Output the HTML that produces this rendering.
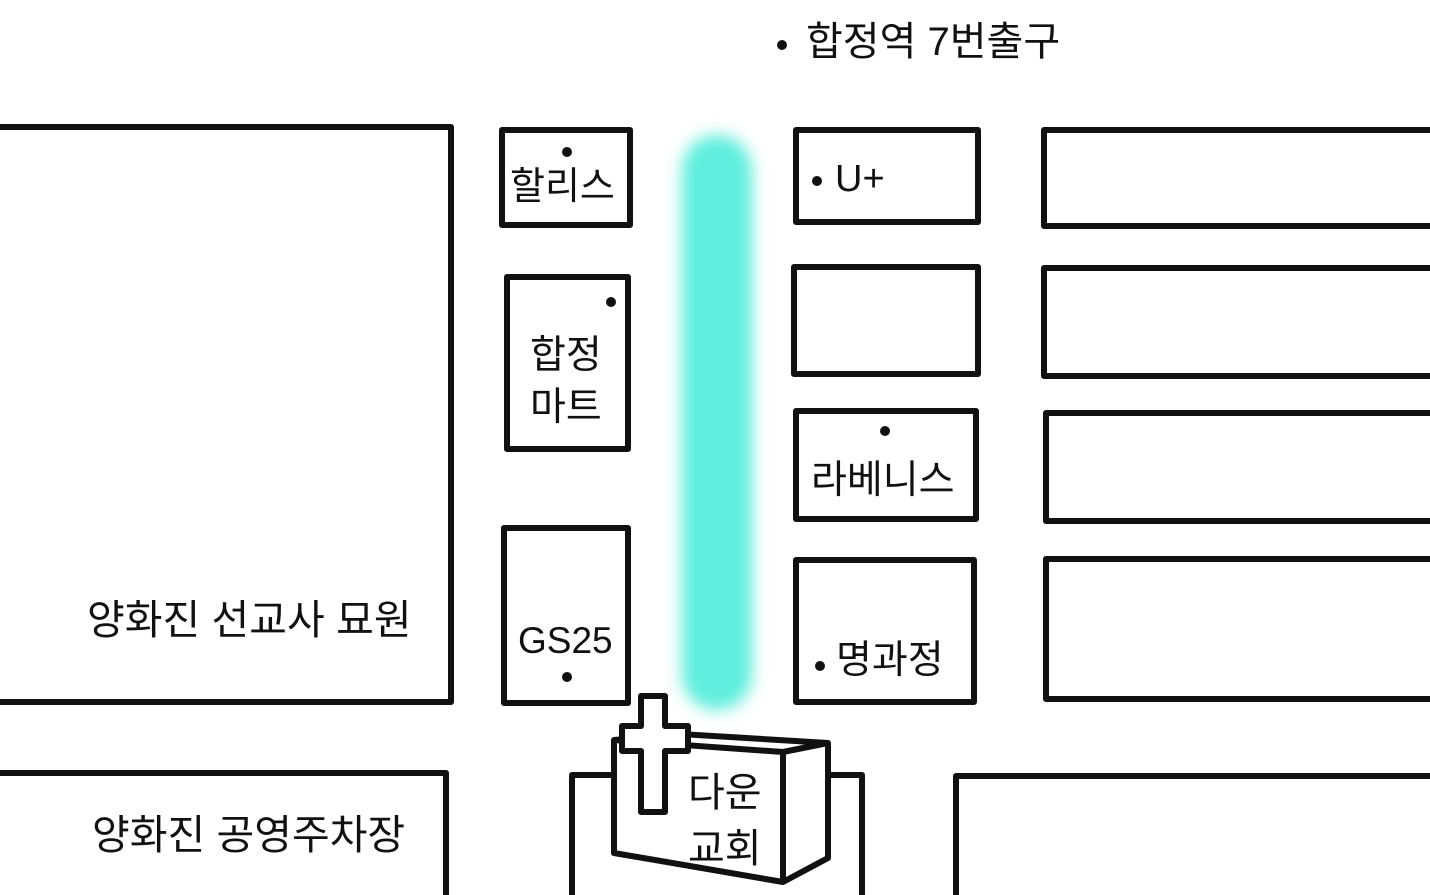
<!DOCTYPE html>
<html><head><meta charset="utf-8"><style>
body{margin:0;background:#fff;width:1430px;height:895px;overflow:hidden;position:relative;font-family:"Liberation Sans","Noto Sans CJK KR",sans-serif;color:#111}
.t{position:absolute;font-size:38px;white-space:nowrap;line-height:1}
</style></head><body>
<svg width="1430" height="895" style="position:absolute;left:0;top:0">
<defs><filter id="b" x="-1" y="-1" width="3" height="3"><feGaussianBlur stdDeviation="8"/></filter></defs>
<rect x="682" y="135" width="70" height="575" rx="35" fill="#5eeedd" filter="url(#b)"/>
<g fill="none" stroke="#111" stroke-width="6" stroke-linejoin="round">
<rect x="-10" y="127" width="461" height="575"/>
<rect x="502" y="130" width="128" height="95"/>
<rect x="507" y="277" width="121" height="172"/>
<rect x="504" y="528" width="124" height="175"/>
<rect x="796" y="130" width="182" height="92"/>
<rect x="794" y="267" width="184" height="107"/>
<rect x="796" y="411" width="180" height="108"/>
<rect x="796" y="560" width="178" height="142"/>
<rect x="1044" y="130" width="400" height="96"/>
<rect x="1044" y="268" width="400" height="108"/>
<rect x="1046" y="413" width="400" height="108"/>
<rect x="1046" y="559" width="400" height="140"/>
<rect x="-10" y="773" width="456" height="140"/>
<rect x="956" y="776" width="490" height="140"/>
<path d="M572 900 V775 H862 V900"/>
</g>
<g stroke="#111" stroke-width="6" stroke-linejoin="round" fill="#fff">
<path d="M614 740 L680 734 L828 743 L828 858 L783 882 L614 853 Z"/>
<path d="M614 740 L783 752 L828 743 M783 752 V882" fill="none"/>
<path d="M641 696 H665 V726 H688 V751 H665 V812 H641 V751 H622 V726 H641 Z"/>
</g>
<g fill="#111">
<circle cx="782" cy="45" r="5"/><circle cx="567" cy="152" r="5"/><circle cx="611" cy="302" r="5"/>
<circle cx="567" cy="677" r="5"/><circle cx="817" cy="181" r="5"/><circle cx="885" cy="431" r="5"/><circle cx="820" cy="666" r="5"/>
</g>
</svg>
<div class="t" style="left:806px;top:22px;font-size:40px">합정역 7번출구</div>
<div class="t" style="left:510px;top:168px">할리스</div>
<div class="t" style="left:530px;top:330px;line-height:52px;font-size:39px">합정<br>마트</div>
<div class="t" style="left:518px;top:622px;font-size:37px">GS25</div>
<div class="t" style="left:835px;top:160px">U+</div>
<div class="t" style="left:811px;top:461px;font-size:39px">라베니스</div>
<div class="t" style="left:836px;top:641px;font-size:39px">명과정</div>
<div class="t" style="left:87px;top:600px;font-size:41px">양화진 선교사 묘원</div>
<div class="t" style="left:92px;top:815px;font-size:41px">양화진 공영주차장</div>
<div class="t" style="left:688px;top:765px;line-height:56px;font-size:40px">다운<br>교회</div>
</body></html>
